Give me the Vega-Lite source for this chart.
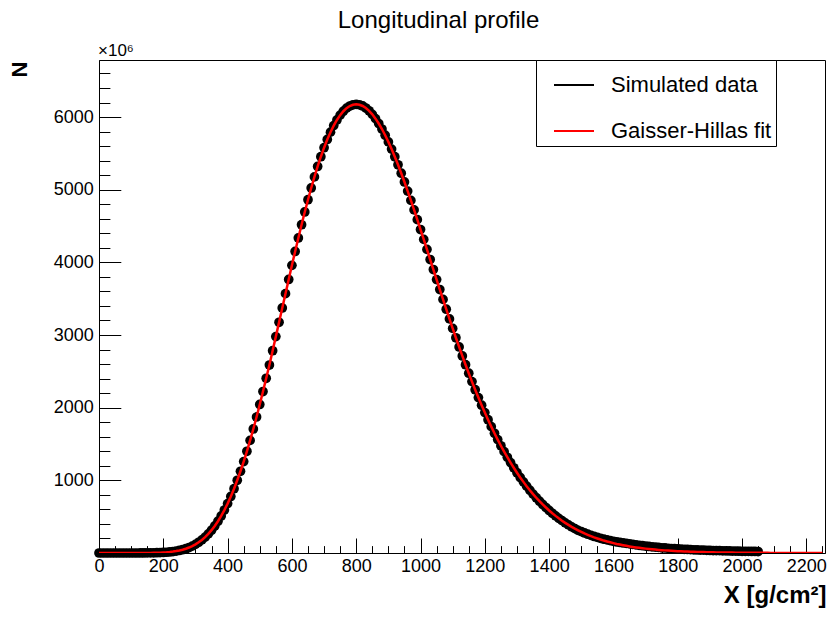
{
  "$schema": "https://vega.github.io/schema/vega-lite/v6.json",
  "width": 726,
  "height": 493,
  "autosize": {"type": "none"},
  "padding": {"left": 99, "top": 60, "right": 2, "bottom": 66},
  "background": "white",
  "config": {
    "view": {"stroke": "black", "strokeWidth": 1},
    "font": "Liberation Sans"
  },
  "title": {
    "text": "Longitudinal profile",
    "fontSize": 24,
    "font": "Liberation Sans",
    "fontWeight": "normal",
    "color": "black",
    "anchor": "middle",
    "frame": "group",
    "dx": -23.5,
    "baseline": "alphabetic",
    "offset": -10
  },
  "data": {
    "values": [
      {"X":0,"sim":0,"fit":0},{"X":10,"sim":0,"fit":0},{"X":20,"sim":0,"fit":0},{"X":30,"sim":0,"fit":0},{"X":40,"sim":0,"fit":0},
      {"X":50,"sim":0,"fit":0},{"X":60,"sim":0,"fit":0},{"X":70,"sim":0,"fit":0},{"X":80,"sim":0,"fit":0},{"X":90,"sim":0,"fit":0},
      {"X":100,"sim":0,"fit":0},{"X":110,"sim":0,"fit":0},{"X":120,"sim":0,"fit":0},{"X":130,"sim":0.4,"fit":0.4},{"X":140,"sim":0.6,"fit":0.6},
      {"X":150,"sim":1,"fit":1},{"X":160,"sim":1.5,"fit":1.5},{"X":170,"sim":2.3,"fit":2.3},{"X":180,"sim":3.5,"fit":3.5},{"X":190,"sim":5.1,"fit":5.1},
      {"X":200,"sim":7.3,"fit":7.3},{"X":210,"sim":10.3,"fit":10.3},{"X":220,"sim":14.3,"fit":14.3},{"X":230,"sim":19.5,"fit":19.5},{"X":240,"sim":26.3,"fit":26.3},
      {"X":250,"sim":34.9,"fit":34.9},{"X":260,"sim":45.6,"fit":45.6},{"X":270,"sim":58.9,"fit":58.9},{"X":280,"sim":75.3,"fit":75.3},{"X":290,"sim":95,"fit":95},
      {"X":300,"sim":119,"fit":119},{"X":310,"sim":147,"fit":147},{"X":320,"sim":180,"fit":180},{"X":330,"sim":218,"fit":218},{"X":340,"sim":263,"fit":263},
      {"X":350,"sim":314,"fit":314},{"X":360,"sim":372,"fit":372},{"X":370,"sim":437,"fit":437},{"X":380,"sim":510,"fit":510},{"X":390,"sim":591,"fit":591},
      {"X":400,"sim":680,"fit":680},{"X":410,"sim":778,"fit":778},{"X":420,"sim":885,"fit":885},{"X":430,"sim":1001,"fit":1001},{"X":440,"sim":1125,"fit":1125},
      {"X":450,"sim":1258,"fit":1258},{"X":460,"sim":1400,"fit":1400},{"X":470,"sim":1550,"fit":1550},{"X":480,"sim":1707,"fit":1707},{"X":490,"sim":1872,"fit":1872},
      {"X":500,"sim":2044,"fit":2044},{"X":510,"sim":2222,"fit":2222},{"X":520,"sim":2405,"fit":2405},{"X":530,"sim":2587,"fit":2587},{"X":540,"sim":2784,"fit":2784},
      {"X":550,"sim":2978,"fit":2978},{"X":560,"sim":3175,"fit":3175},{"X":570,"sim":3372,"fit":3372},{"X":580,"sim":3569,"fit":3569},{"X":590,"sim":3765,"fit":3765},
      {"X":600,"sim":3959,"fit":3959},{"X":610,"sim":4150,"fit":4150},{"X":620,"sim":4336,"fit":4336},{"X":630,"sim":4518,"fit":4518},{"X":640,"sim":4694,"fit":4694},
      {"X":650,"sim":4862,"fit":4862},{"X":660,"sim":5024,"fit":5024},{"X":670,"sim":5176,"fit":5176},{"X":680,"sim":5320,"fit":5320},{"X":690,"sim":5454,"fit":5454},
      {"X":700,"sim":5578,"fit":5578},{"X":710,"sim":5691,"fit":5691},{"X":720,"sim":5792,"fit":5792},{"X":730,"sim":5882,"fit":5882},{"X":740,"sim":5960,"fit":5960},
      {"X":750,"sim":6026,"fit":6026},{"X":760,"sim":6080,"fit":6080},{"X":770,"sim":6122,"fit":6122},{"X":780,"sim":6151,"fit":6151},{"X":790,"sim":6169,"fit":6169},
      {"X":800,"sim":6175,"fit":6175},{"X":810,"sim":6169,"fit":6169},{"X":820,"sim":6152,"fit":6152},{"X":830,"sim":6124,"fit":6124},{"X":840,"sim":6086,"fit":6086},
      {"X":850,"sim":6037,"fit":6037},{"X":860,"sim":5978,"fit":5978},{"X":870,"sim":5911,"fit":5911},{"X":880,"sim":5835,"fit":5835},{"X":890,"sim":5750,"fit":5750},
      {"X":900,"sim":5658,"fit":5658},{"X":910,"sim":5559,"fit":5559},{"X":920,"sim":5454,"fit":5454},{"X":930,"sim":5343,"fit":5343},{"X":940,"sim":5227,"fit":5227},
      {"X":950,"sim":5106,"fit":5106},{"X":960,"sim":4981,"fit":4981},{"X":970,"sim":4853,"fit":4853},{"X":980,"sim":4722,"fit":4722},{"X":990,"sim":4588,"fit":4588},
      {"X":1000,"sim":4452,"fit":4452},{"X":1010,"sim":4316,"fit":4316},{"X":1020,"sim":4178,"fit":4178},{"X":1030,"sim":4039,"fit":4039},{"X":1040,"sim":3901,"fit":3901},
      {"X":1050,"sim":3763,"fit":3763},{"X":1060,"sim":3626,"fit":3626},{"X":1070,"sim":3490,"fit":3490},{"X":1080,"sim":3355,"fit":3355},{"X":1090,"sim":3222,"fit":3222},
      {"X":1100,"sim":3091,"fit":3091},{"X":1110,"sim":2962,"fit":2962},{"X":1120,"sim":2836,"fit":2836},{"X":1130,"sim":2712,"fit":2712},{"X":1140,"sim":2591,"fit":2591},
      {"X":1150,"sim":2474,"fit":2474},{"X":1160,"sim":2359,"fit":2359},{"X":1170,"sim":2247,"fit":2247},{"X":1180,"sim":2139,"fit":2139},{"X":1190,"sim":2034,"fit":2034},
      {"X":1200,"sim":1932,"fit":1932},{"X":1210,"sim":1834,"fit":1834},{"X":1220,"sim":1739,"fit":1739},{"X":1230,"sim":1648,"fit":1648},{"X":1240,"sim":1561,"fit":1561},
      {"X":1250,"sim":1476,"fit":1476},{"X":1260,"sim":1395,"fit":1395},{"X":1270,"sim":1318,"fit":1318},{"X":1280,"sim":1244,"fit":1244},{"X":1290,"sim":1173,"fit":1173},
      {"X":1300,"sim":1105,"fit":1105},{"X":1310,"sim":1040,"fit":1040},{"X":1320,"sim":979,"fit":979},{"X":1330,"sim":920,"fit":920},{"X":1340,"sim":864,"fit":864},
      {"X":1350,"sim":811,"fit":811},{"X":1360,"sim":761,"fit":761},{"X":1370,"sim":713,"fit":713},{"X":1380,"sim":668,"fit":668},{"X":1390,"sim":626,"fit":626},
      {"X":1400,"sim":585,"fit":585},{"X":1410,"sim":547,"fit":547},{"X":1420,"sim":511,"fit":511},{"X":1430,"sim":477,"fit":477},{"X":1440,"sim":445,"fit":445},
      {"X":1450,"sim":415,"fit":415},{"X":1460,"sim":387,"fit":387},{"X":1470,"sim":360,"fit":360},{"X":1480,"sim":335,"fit":335},{"X":1490,"sim":312,"fit":312},
      {"X":1500,"sim":295,"fit":290},{"X":1510,"sim":276,"fit":269},{"X":1520,"sim":259,"fit":250},{"X":1530,"sim":243,"fit":232},{"X":1540,"sim":228,"fit":215},
      {"X":1550,"sim":215,"fit":200},{"X":1560,"sim":202,"fit":185},{"X":1570,"sim":190,"fit":171},{"X":1580,"sim":180,"fit":159},{"X":1590,"sim":170,"fit":147},
      {"X":1600,"sim":161,"fit":136},{"X":1610,"sim":152,"fit":125},{"X":1620,"sim":145,"fit":116},{"X":1630,"sim":138,"fit":107},{"X":1640,"sim":132,"fit":98.6},
      {"X":1650,"sim":126,"fit":90.9},{"X":1660,"sim":119,"fit":83.8},{"X":1670,"sim":112,"fit":77.2},{"X":1680,"sim":106,"fit":71.1},{"X":1690,"sim":100,"fit":65.4},
      {"X":1700,"sim":95,"fit":60.2},{"X":1710,"sim":90,"fit":55.3},{"X":1720,"sim":85,"fit":50.9},{"X":1730,"sim":81,"fit":46.7},{"X":1740,"sim":77,"fit":42.9},
      {"X":1750,"sim":72,"fit":39.4},{"X":1760,"sim":69,"fit":36.1},{"X":1770,"sim":65,"fit":33.2},{"X":1780,"sim":61,"fit":30.4},{"X":1790,"sim":59,"fit":27.9},
      {"X":1800,"sim":56,"fit":25.5},{"X":1810,"sim":53,"fit":23.4},{"X":1820,"sim":50,"fit":21.4},{"X":1830,"sim":49,"fit":19.6},{"X":1840,"sim":46,"fit":17.9},
      {"X":1850,"sim":44,"fit":16.4},{"X":1860,"sim":42,"fit":14.9},{"X":1870,"sim":41,"fit":13.7},{"X":1880,"sim":39,"fit":12.5},{"X":1890,"sim":37,"fit":11.4},
      {"X":1900,"sim":35,"fit":10.4},{"X":1910,"sim":34,"fit":9.5},{"X":1920,"sim":33,"fit":8.6},{"X":1930,"sim":32,"fit":7.9},{"X":1940,"sim":30,"fit":7.2},
      {"X":1950,"sim":29,"fit":6.5},{"X":1960,"sim":28,"fit":6},{"X":1970,"sim":26,"fit":5.4},{"X":1980,"sim":26,"fit":4.9},{"X":1990,"sim":25,"fit":4.5},
      {"X":2000,"sim":24,"fit":4.1},{"X":2010,"sim":23,"fit":3.7},{"X":2020,"sim":22,"fit":3.4},{"X":2030,"sim":21,"fit":3.1},{"X":2040,"sim":21,"fit":2.8},
      {"X":2050,"sim":20,"fit":2.5},{"X":2060,"fit":2.3},{"X":2070,"fit":2.1},{"X":2080,"fit":1.9},{"X":2090,"fit":1.7},
      {"X":2100,"fit":1.5},{"X":2110,"fit":1.4},{"X":2120,"fit":1.3},{"X":2130,"fit":1.1},{"X":2140,"fit":1},
      {"X":2150,"fit":0.9},{"X":2160,"fit":0.8},{"X":2170,"fit":0.8},{"X":2180,"fit":0.7},{"X":2190,"fit":0.6},
      {"X":2200,"fit":0.6},{"X":2210,"fit":0.5},{"X":2220,"fit":0.5},{"X":2230,"fit":0.4},{"X":2240,"fit":0.4},{"X":2250,"fit":0.3}
    ]
  },
  "encoding": {
    "x": {
      "field": "X",
      "type": "quantitative",
      "scale": {"domain": [0, 2258], "nice": false, "zero": false},
      "axis": {
        "values": [0,50,100,150,200,250,300,350,400,450,500,550,600,650,700,750,800,850,900,950,1000,1050,1100,1150,1200,1250,1300,1350,1400,1450,1500,1550,1600,1650,1700,1750,1800,1850,1900,1950,2000,2050,2100,2150,2200,2250],
        "format": "d",
        "labelExpr": "datum.value % 200 === 0 ? datum.label : ''",
        "tickSize": {"condition": {"test": "datum.value % 200 === 0", "value": -15}, "value": -7.4},
        "tickColor": "black",
        "tickWidth": 1,
        "domainColor": "black",
        "grid": false,
        "labelPadding": 19,
        "labelFlush": false,
        "labelOverlap": false,
        "labelFont": "Liberation Sans",
        "labelFontSize": 18,
        "labelColor": "black",
        "title": "X [g/cm²]",
        "titleFont": "Liberation Sans",
        "titleFontSize": 24,
        "titleFontWeight": "bold",
        "titleColor": "black",
        "titleAnchor": "end",
        "titleAlign": "right",
        "titleBaseline": "alphabetic",
        "titleX": 727,
        "titleY": 49
      }
    },
    "y": {
      "field": "N",
      "type": "quantitative",
      "scale": {"domain": [0, 6785], "nice": false, "zero": true},
      "axis": {
        "values": [200,400,600,800,1000,1200,1400,1600,1800,2000,2200,2400,2600,2800,3000,3200,3400,3600,3800,4000,4200,4400,4600,4800,5000,5200,5400,5600,5800,6000,6200,6400,6600],
        "format": "d",
        "labelExpr": "datum.value % 1000 === 0 ? datum.label : ''",
        "tickSize": {"condition": {"test": "datum.value % 1000 === 0", "value": -21.8}, "value": -10.9},
        "tickColor": "black",
        "tickWidth": 1,
        "domainColor": "black",
        "grid": false,
        "labelPadding": 27.5,
        "labelFlush": false,
        "labelOverlap": false,
        "labelFont": "Liberation Sans",
        "labelFontSize": 18,
        "labelColor": "black",
        "title": "N",
        "titleFont": "Liberation Sans",
        "titleFontSize": 22,
        "titleFontWeight": "bold",
        "titleColor": "black",
        "titleAngle": 270,
        "titleAnchor": "end",
        "titleAlign": "right",
        "titleBaseline": "alphabetic",
        "titleX": -73,
        "titleY": 1
      }
    }
  },
  "layer": [
    {
      "transform": [
        {"fold": ["sim", "fit"], "as": ["series", "N"]},
        {"filter": "datum.series === 'sim' && isValid(datum.N)"}
      ],
      "mark": {"type": "point", "filled": true, "size": 95, "opacity": 1, "color": "black", "clip": false}
    },
    {
      "transform": [
        {"fold": ["sim", "fit"], "as": ["series", "N"]},
        {"filter": "datum.series === 'fit'"}
      ],
      "mark": {"type": "line", "strokeWidth": 2.5, "clip": true},
      "encoding": {
        "color": {
          "datum": "Gaisser-Hillas fit",
          "type": "nominal",
          "scale": {"domain": ["Simulated data", "Gaisser-Hillas fit"], "range": ["black", "red"]},
          "legend": {
            "title": null,
            "orient": "none",
            "legendX": 437,
            "legendY": 0,
            "padding": 4,
            "strokeColor": "black",
            "fillColor": "white",
            "symbolType": "stroke",
            "symbolSize": 1600,
            "symbolStrokeWidth": 2,
            "symbolOffset": 13,
            "labelOffset": 16,
            "rowPadding": 14,
            "labelFont": "Liberation Sans",
            "labelFontSize": 22,
            "labelColor": "black",
            "labelLimit": 400,
            "labelExpr": "datum.label + '\u00a0\u00a0\u00a0\u00a0\u00a0\u00a0\u00a0\u00a0\u00a0\u00a0\u00a0'"
          }
        }
      }
    },
    {
      "data": {"values": [{"X": 0, "N": 6785, "label": "×10⁶"}]},
      "mark": {"type": "text", "align": "left", "baseline": "alphabetic", "dx": -1, "dy": -4, "fontSize": 17, "font": "Liberation Sans", "color": "black", "clip": false},
      "encoding": {
        "text": {"field": "label", "type": "nominal"}
      }
    }
  ]
}
